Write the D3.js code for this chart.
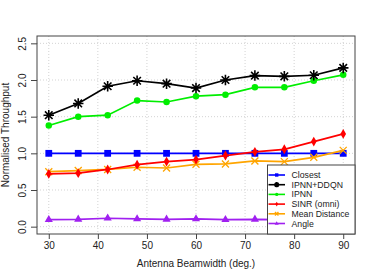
<!DOCTYPE html>
<html><head><meta charset="utf-8">
<script src="https://cdn.jsdelivr.net/npm/d3@7/dist/d3.min.js"></script>
<style>body{margin:0;background:#fff}svg{display:block}text{font-family:"Liberation Sans",Arial,sans-serif}</style>
</head><body>
<svg id="c" width="374" height="280"></svg>
<script>
const beamwidths = [30,36,42,48,54,60,66,72,78,84,90];
const closest   = [1.0,1.0,1.0,1.0,1.0,1.0,1.0,1.0,1.0,1.0,1.0];
const ipnnDdqn  = [1.52,1.68,1.915,1.99,1.95,1.89,2.0,2.06,2.05,2.065,2.165];
const ipnn      = [1.38,1.50,1.52,1.72,1.70,1.78,1.80,1.90,1.90,1.99,2.07];
const sinrOmni  = [0.72,0.73,0.78,0.845,0.887,0.915,0.97,1.02,1.055,1.16,1.265];
const meanDist  = [0.75,0.765,0.78,0.81,0.80,0.85,0.855,0.896,0.887,0.946,1.04];
const angle     = [0.095,0.10,0.115,0.105,0.10,0.105,0.095,0.10,0.095,0.10,0.10];
const xTicks = [30,40,50,60,70,80,90];
const yTicks = [0.0,0.5,1.0,1.5,2.0,2.5];
const seriesNames = ["Closest","IPNN+DDQN","IPNN","SINR (omni)","Mean Distance","Angle"];
const seriesColors = ["#0000FF","#000000","#00EE00","#FF0000","#FFA500","#A020F0"];
const seriesShapes = ["square","asterisk","circle","diamond","cross","triangle"];
const seriesData = [closest, ipnnDdqn, ipnn, sinrOmni, meanDist, angle];

const svg = d3.select("#c");
const L=37, R=355, T=36, B=234;
const x = d3.scaleLinear().domain([27.6,92.4]).range([L,R]);
const y = d3.scaleLinear().domain([-0.1,2.6]).range([B,T]);

// grid
const g = svg.append("g");
g.selectAll(".gx").data(xTicks).enter().append("line")
  .attr("x1",d=>x(d)).attr("x2",d=>x(d)).attr("y1",T).attr("y2",B)
  .attr("stroke","#d3d3d3").attr("stroke-width",1).attr("stroke-dasharray","1,2");
g.selectAll(".gy").data(yTicks).enter().append("line")
  .attr("y1",d=>y(d)).attr("y2",d=>y(d)).attr("x1",L).attr("x2",R)
  .attr("stroke","#d3d3d3").attr("stroke-width",1).attr("stroke-dasharray","1,2");

// axes
const xa = svg.append("g").attr("transform",`translate(0,${B})`)
  .call(d3.axisBottom(x).tickValues(xTicks).tickSize(5).tickPadding(3).tickFormat(d3.format("d")));
xa.select(".domain").remove();
xa.selectAll("line").attr("stroke","#444");
xa.selectAll("text").attr("font-size",10).attr("fill","#222");
const ya = svg.append("g").attr("transform",`translate(${L},0)`)
  .call(d3.axisLeft(y).tickValues(yTicks).tickSize(6).tickFormat(d3.format(".1f")));
ya.select(".domain").remove();
ya.selectAll("line").attr("stroke","#444");
ya.selectAll("text").attr("font-size",10).attr("fill","#222")
  .attr("text-anchor","middle").attr("x",0).attr("dy",0)
  .attr("transform",function(d){return `translate(-11,${0}) rotate(-90)`;});

function symbolPath(shape, s){
  switch(shape){
    case "square": return d3.symbol(d3.symbolSquare, s*s)();
    case "circle": return d3.symbol(d3.symbolCircle, Math.PI*s*s/4)();
    case "diamond": return d3.symbol(d3.symbolDiamond, s*s*0.5)();
    case "triangle": return d3.symbol(d3.symbolTriangle, s*s*0.45)();
    case "cross": { const h=s/2; return `M${-h},${-h}L${h},${h}M${-h},${h}L${h},${-h}`; }
    case "asterisk": { const h=s/2, k=h*0.72; return `M${-h},0L${h},0M0,${-h}L0,${h}M${-k},${-k}L${k},${k}M${-k},${k}L${k},${-k}`; }
  }
}
const sizes = {square:6.8,circle:6.5,diamond:7.5,triangle:8,cross:7,asterisk:10.5};
function drawMarker(sel, shape, color, s){
  const p = sel.append("path").attr("d",symbolPath(shape,s));
  if(shape==="cross"||shape==="asterisk"){
    p.attr("fill","none").attr("stroke",color).attr("stroke-width",shape==="asterisk"?1.6:1.3);
  } else p.attr("fill",color);
  return p;
}

const line = d3.line().x((d,i)=>x(beamwidths[i])).y(d=>y(d));
const order = [0,4,3,2,1,5];
order.forEach(k=>{
  const data = seriesData[k];
  svg.append("path").datum(data).attr("d",line).attr("fill","none")
    .attr("stroke",seriesColors[k]).attr("stroke-width",1.7);
  data.forEach((v,i)=>{
    const gg = svg.append("g").attr("transform",`translate(${x(beamwidths[i])},${y(v)})`);
    drawMarker(gg, seriesShapes[k], seriesColors[k], sizes[seriesShapes[k]]);
  });
});

// box
svg.append("rect").attr("x",L).attr("y",T).attr("width",R-L).attr("height",B-T)
  .attr("fill","none").attr("stroke","#444").attr("stroke-width",1);

// legend
const lx=267.5, ly=165, lw=R-lx, lh=B-ly;
svg.append("rect").attr("x",lx).attr("y",ly).attr("width",lw).attr("height",lh)
  .attr("fill","#fff").attr("stroke","#444").attr("stroke-width",1);
seriesNames.forEach((nm,k)=>{
  const yy = 175 + k*9.7;
  svg.append("line").attr("x1",268.5).attr("x2",285).attr("y1",yy).attr("y2",yy)
    .attr("stroke",seriesColors[k]).attr("stroke-width",1.6);
  const gg = svg.append("g").attr("transform",`translate(276.7,${yy})`);
  drawMarker(gg, seriesShapes[k], seriesColors[k], sizes[seriesShapes[k]]*0.5);
  svg.append("text").attr("x",291.5).attr("y",yy).attr("dy","0.35em")
    .attr("font-size",8.7).attr("fill","#222").text(nm);
});

// titles
svg.append("text").attr("x",(L+R)/2).attr("y",267).attr("text-anchor","middle")
  .attr("font-size",10).attr("fill","#222").text("Antenna Beamwidth (deg.)");
svg.append("text").attr("transform",`translate(8.5,${(T+B)/2}) rotate(-90)`)
  .attr("text-anchor","middle").attr("font-size",10).attr("fill","#222").text("Normalised Throughput");
</script>
</body></html>
